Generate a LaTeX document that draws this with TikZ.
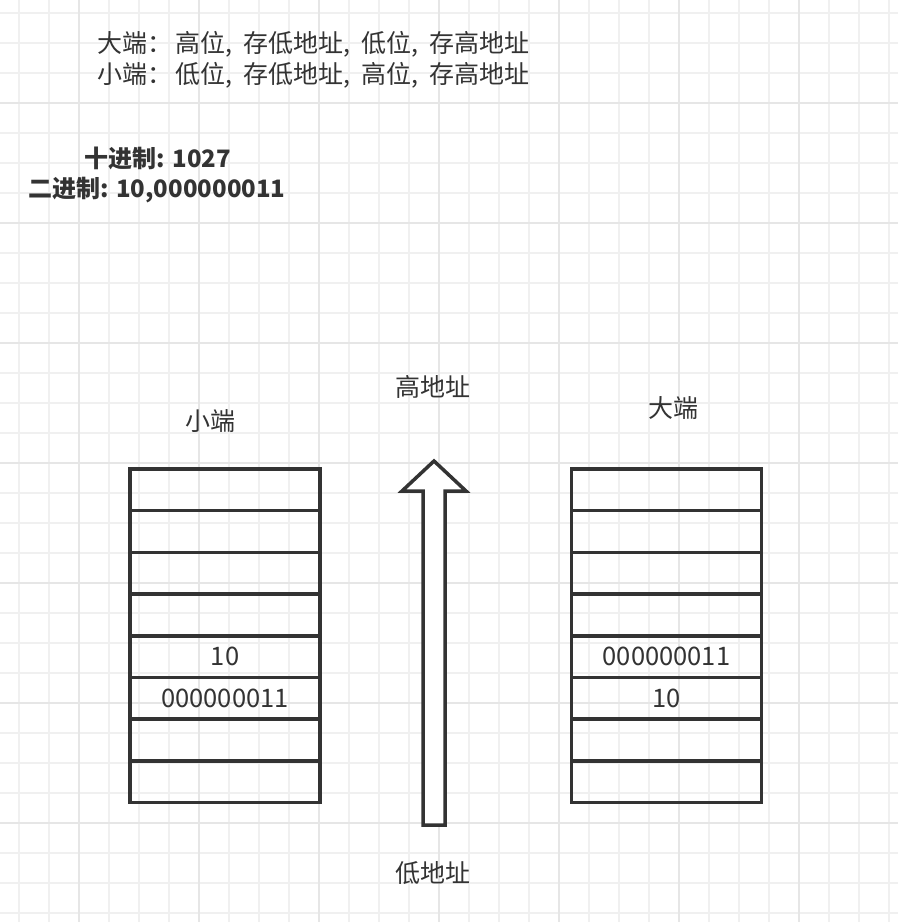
\documentclass[tikz,border=0pt]{standalone}
\usepackage{fontspec}
\setmainfont{Noto Sans CJK SC}
\definecolor{ink}{HTML}{333333}
\definecolor{gridminor}{HTML}{F0F0F0}
\definecolor{gridmajor}{HTML}{E6E6E6}
\newcommand\cs{,\hspace{11pt}}
\newcommand\cl{：\hspace{3pt}}
\tikzset{
  gminor/.style={draw=gridminor, line width=1.5pt},
  gmajor/.style={draw=gridmajor, line width=2pt},
  cell/.style={draw=ink, line width=3.5pt, minimum width=190pt, minimum height=41.7pt, inner sep=0pt, outer sep=0pt, text=ink, font=\fontsize{25.5}{28}\selectfont},
  lbl/.style={text=ink, inner sep=0pt, font=\fontsize{25}{28}\selectfont},
  titletxt/.style={text=ink, inner sep=0pt, align=left, font=\fontsize{25}{31}\selectfont},
  boldtxt/.style={text=ink, inner sep=0pt, align=center, font=\bfseries\fontsize{24}{32}\selectfont},
}
\begin{document}
\begin{tikzpicture}[x=1pt, y=-1pt]
\useasboundingbox (0,0) rectangle (898,922);
\fill[white] (0,0) rectangle (898,922);
% grid
\foreach \x in {19,49,...,889} \draw[gminor] (\x,0) -- (\x,922);
\foreach \y in {13,43,...,913} \draw[gminor] (0,\y) -- (898,\y);
\foreach \x in {79,199,...,799} \draw[gmajor] (\x,0) -- (\x,922);
\foreach \y in {103,223,...,823} \draw[gmajor] (0,\y) -- (898,\y);
% title text
\node[titletxt, anchor=west] (t1) at (97,44) {大端\cl 高位\cs 存低地址\cs 低位\cs 存高地址};
\node[titletxt, anchor=west] (t2) at (97,75) {小端\cl 低位\cs 存低地址\cs 高位\cs 存高地址};
\node[boldtxt] (dec) at (158,158) {十进制: 1027};
\node[boldtxt] (bin) at (157,190) {二进制: 10,000000011};
% labels
\node[lbl] (lsmall) at (210,421) {小端};
\node[lbl] (lbig) at (673,408) {大端};
\node[lbl] (lhigh) at (433,387) {高地址};
\node[lbl] (llow) at (433,873) {低地址};
% left memory (little endian)
\foreach \i/\t in {1/,2/,3/,4/,5/10,6/000000011,7/,8/}
  \node[cell] (L\i) at (225, {469+41.7*(\i-0.5)}) {\t};
% right memory (big endian)
\foreach \i/\t in {1/,2/,3/,4/,5/000000011,6/10,7/,8/}
  \node[cell] (R\i) at (666.5, {469+41.7*(\i-0.5)}) {\t};
% arrow
\draw[ink, line width=3.5pt, line join=miter, fill=white]
  (423,825) -- (423,491) -- (402,491) -- (434,461) -- (466,491) -- (445,491) -- (445,825) -- cycle;
\end{tikzpicture}
\end{document}
